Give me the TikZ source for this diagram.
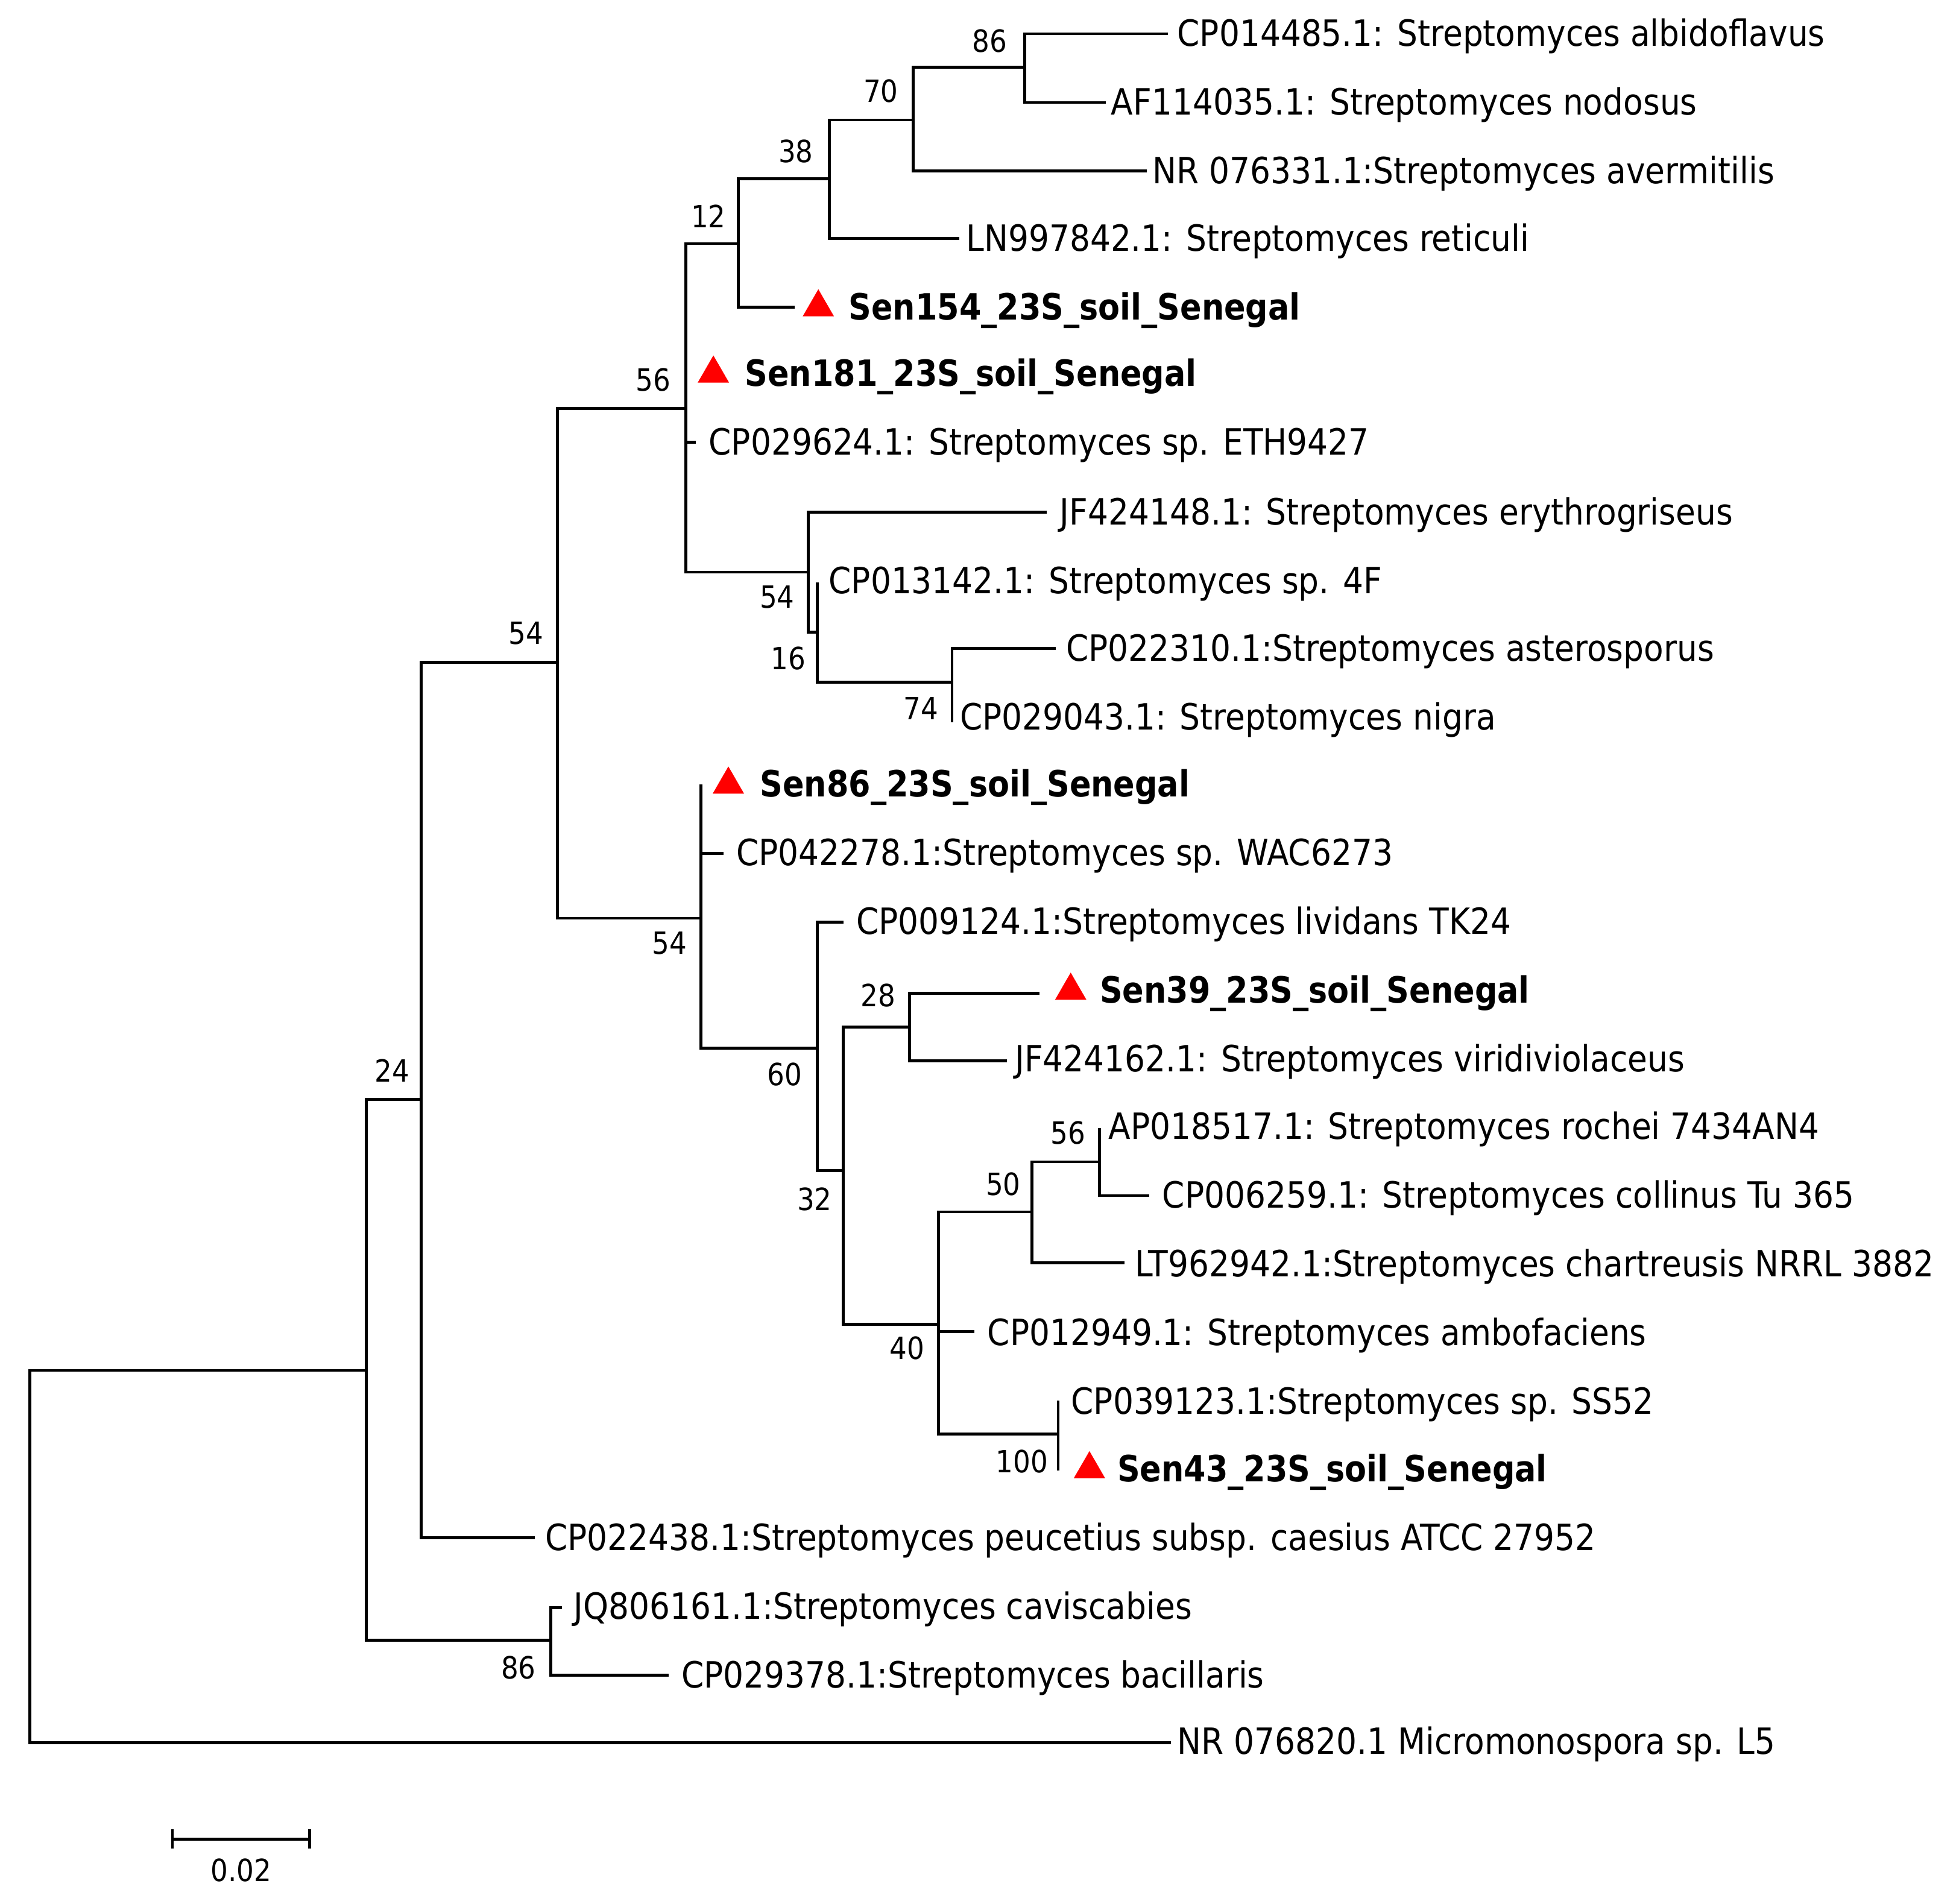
\documentclass[tikz,border=0pt]{standalone}
\usepackage{fontspec}
\setmainfont[FakeStretch=0.89,BoldFeatures={FakeStretch=0.873}]{DejaVu Sans}
\usetikzlibrary{shapes.geometric}
\begin{document}
\begin{tikzpicture}[x=0.518pt,y=-0.518pt,
  br/.style={line width=1.2pt, line join=miter},
  leaf/.style={anchor=base west, inner sep=0pt, font=\fontsize{15}{18}\selectfont},
  sen/.style={leaf, font=\fontsize{15}{18}\selectfont\bfseries},
  bs/.style={inner sep=0pt, font=\fontsize{12.7}{15}\selectfont},
  tri/.style={regular polygon, regular polygon sides=3, fill=red, draw=none, inner sep=0pt, minimum size=15pt}]
\useasboundingbox (0,0) rectangle (1568,1524);
% internal nodes
\coordinate (root) at (24,1246);
\coordinate (n24) at (293,1097);
\coordinate (n337) at (337,880);
\coordinate (n446) at (446,530);
\coordinate (n549) at (549,327);
\coordinate (n591) at (591,195);
\coordinate (n664) at (664,143);
\coordinate (n731) at (731,96);
\coordinate (n820) at (820,54);
\coordinate (n647) at (647,458);
\coordinate (n654a) at (654,506);
\coordinate (n762) at (762,546);
\coordinate (n561) at (561,735);
\coordinate (n654b) at (654,839);
\coordinate (n675) at (675,937);
\coordinate (n728) at (728,822);
\coordinate (n751) at (751,1060);
\coordinate (n826) at (826,970);
\coordinate (n880) at (880,930);
\coordinate (n847) at (847,1148);
\coordinate (n441) at (441,1313);
% tips
\coordinate (t1) at (935,27);
\coordinate (t2) at (885,82);
\coordinate (t3) at (918,137);
\coordinate (t4) at (768,191);
\coordinate (t5) at (636,246);
\coordinate (t6) at (549,299);
\coordinate (t7) at (557,354);
\coordinate (t8) at (838,410);
\coordinate (t9) at (654,466);
\coordinate (t10) at (845,519);
\coordinate (t11) at (762,578);
\coordinate (t12) at (561,628);
\coordinate (t13) at (579,683);
\coordinate (t14) at (675,738);
\coordinate (t15) at (832,795);
\coordinate (t16) at (806,849);
\coordinate (t17) at (880,903);
\coordinate (t18) at (920,957);
\coordinate (t19) at (900,1011);
\coordinate (t20) at (780,1066);
\coordinate (t21) at (847,1121);
\coordinate (t22) at (847,1177);
\coordinate (t23) at (428,1231);
\coordinate (t24) at (450,1287);
\coordinate (t25) at (535,1341);
\coordinate (t26) at (937,1395);
% branches
\draw[br] (root) |- (n24);
\draw[br] (root) |- (t26);
\draw[br] (n24) |- (n337);
\draw[br] (n24) |- (n441);
\draw[br] (n337) |- (n446);
\draw[br] (n337) |- (t23);
\draw[br] (n446) |- (n549);
\draw[br] (n446) |- (n561);
\draw[br] (n549) |- (n591);
\draw[br] (n549) |- (t6);
\draw[br] (n549) |- (t7);
\draw[br] (n549) |- (n647);
\draw[br] (n591) |- (n664);
\draw[br] (n591) |- (t5);
\draw[br] (n664) |- (n731);
\draw[br] (n664) |- (t4);
\draw[br] (n731) |- (n820);
\draw[br] (n731) |- (t3);
\draw[br] (n820) |- (t1);
\draw[br] (n820) |- (t2);
\draw[br] (n647) |- (t8);
\draw[br] (n647) |- (n654a);
\draw[br] (n654a) |- (t9);
\draw[br] (n654a) |- (n762);
\draw[br] (n762) |- (t10);
\draw[br] (n762) |- (t11);
\draw[br] (n561) |- (t12);
\draw[br] (n561) |- (t13);
\draw[br] (n561) |- (n654b);
\draw[br] (n654b) |- (t14);
\draw[br] (n654b) |- (n675);
\draw[br] (n675) |- (n728);
\draw[br] (n675) |- (n751);
\draw[br] (n728) |- (t15);
\draw[br] (n728) |- (t16);
\draw[br] (n751) |- (n826);
\draw[br] (n751) |- (t20);
\draw[br] (n751) |- (n847);
\draw[br] (n826) |- (n880);
\draw[br] (n826) |- (t19);
\draw[br] (n880) |- (t17);
\draw[br] (n880) |- (t18);
\draw[br] (n847) |- (t21);
\draw[br] (n847) |- (t22);
\draw[br] (n441) |- (t24);
\draw[br] (n441) |- (t25);
% leaf labels
\node[leaf] (l1) at (942,37) {CP014485.1: Streptomyces albidoflavus};
\node[leaf] (l2) at (889,92) {AF114035.1: Streptomyces nodosus};
\node[leaf] (l3) at (922,147) {NR 076331.1:Streptomyces avermitilis};
\node[leaf] (l4) at (773,201) {LN997842.1: Streptomyces reticuli};
\node[tri] (s5) at (655,246) {};
\node[sen] (l5) at (679,256) {Sen154\_23S\_soil\_Senegal};
\node[tri] (s6) at (571,299) {};
\node[sen] (l6) at (596,309) {Sen181\_23S\_soil\_Senegal};
\node[leaf] (l7) at (567,364) {CP029624.1: Streptomyces sp. ETH9427};
\node[leaf] (l8) at (848,420) {JF424148.1: Streptomyces erythrogriseus};
\node[leaf] (l9) at (663,475) {CP013142.1: Streptomyces sp. 4F};
\node[leaf] (l10) at (853,529) {CP022310.1:Streptomyces asterosporus};
\node[leaf] (l11) at (768,584) {CP029043.1: Streptomyces nigra};
\node[tri] (s12) at (583,628) {};
\node[sen] (l12) at (608,638) {Sen86\_23S\_soil\_Senegal};
\node[leaf] (l13) at (589,693) {CP042278.1:Streptomyces sp. WAC6273};
\node[leaf] (l14) at (685,748) {CP009124.1:Streptomyces lividans TK24};
\node[tri] (s15) at (857,793) {};
\node[sen] (l15) at (880,803) {Sen39\_23S\_soil\_Senegal};
\node[leaf] (l16) at (812,858) {JF424162.1: Streptomyces viridiviolaceus};
\node[leaf] (l17) at (887,912) {AP018517.1: Streptomyces rochei 7434AN4};
\node[leaf] (l18) at (930,967) {CP006259.1: Streptomyces collinus Tu 365};
\node[leaf] (l19) at (908,1022) {LT962942.1:Streptomyces chartreusis NRRL 3882};
\node[leaf] (l20) at (790,1077) {CP012949.1: Streptomyces ambofaciens};
\node[leaf] (l21) at (857,1132) {CP039123.1:Streptomyces sp. SS52};
\node[tri] (s22) at (872,1176) {};
\node[sen] (l22) at (894,1186) {Sen43\_23S\_soil\_Senegal};
\node[leaf] (l23) at (436,1241) {CP022438.1:Streptomyces peucetius subsp. caesius ATCC 27952};
\node[leaf] (l24) at (459,1296) {JQ806161.1:Streptomyces caviscabies};
\node[leaf] (l25) at (545,1351) {CP029378.1:Streptomyces bacillaris};
\node[leaf] (l26) at (942,1404) {NR 076820.1 Micromonospora sp. L5};
% bootstrap values
\node[bs] (b1) at (792,33) {86};
\node[bs] (b2) at (705,73) {70};
\node[bs] (b3) at (637,121) {38};
\node[bs] (b4) at (567,173) {12};
\node[bs] (b5) at (523,304) {56};
\node[bs] (b6) at (622,478) {54};
\node[bs] (b7) at (631,527) {16};
\node[bs] (b8) at (737,567) {74};
\node[bs] (b9) at (421,507) {54};
\node[bs] (b10) at (536,755) {54};
\node[bs] (b11) at (628,860) {60};
\node[bs] (b12) at (703,797) {28};
\node[bs] (b13) at (652,960) {32};
\node[bs] (b14) at (855,907) {56};
\node[bs] (b15) at (803,948) {50};
\node[bs] (b16) at (726,1079) {40};
\node[bs] (b17) at (818,1170) {100};
\node[bs] (b18) at (314,857) {24};
\node[bs] (b19) at (415,1335) {86};
% scale bar
\coordinate (sb1) at (138,1472);
\coordinate (sb2) at (248,1472);
\draw[br] (sb1) -- (sb2);
\draw[br] ([yshift=-4pt]sb1) -- ([yshift=4pt]sb1);
\draw[br] ([yshift=-4pt]sb2) -- ([yshift=4pt]sb2);
\node[bs] (sbl) at (193,1497) {0.02};
\end{tikzpicture}
\end{document}
